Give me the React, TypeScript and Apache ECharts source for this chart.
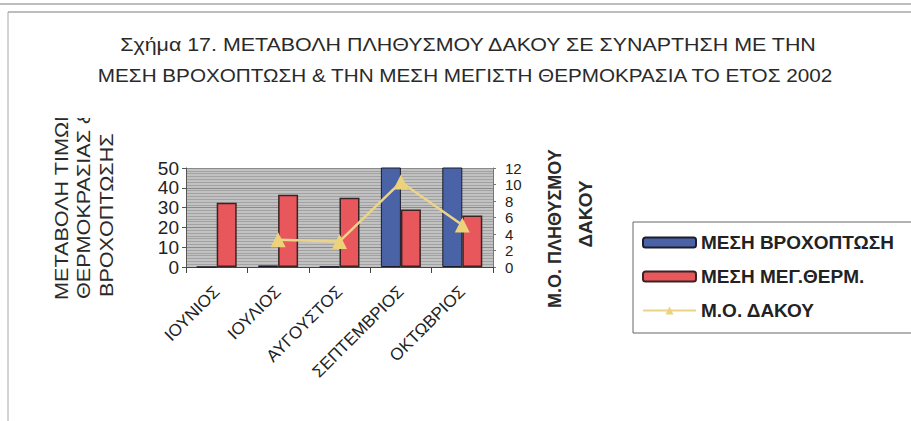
import React, { useEffect, useRef } from "react";
import * as echarts from "echarts";

// Months of the 2002 season
const categories = ["ΙΟΥΝΙΟΣ", "ΙΟΥΛΙΟΣ", "ΑΥΓΟΥΣΤΟΣ", "ΣΕΠΤΕΜΒΡΙΟΣ", "ΟΚΤΩΒΡΙΟΣ"];
// Mean rainfall (left axis; autumn values run past the axis top)
const rainfall = [0, 0.8, 0.2, 62, 58];
// Mean maximum temperature (left axis)
const maxTemperature = [32.5, 36.5, 35, 29, 26];
// Mean olive fly population (right axis)
const dacusPopulation = [null, 3.3, 3.1, 10.3, 5.1];

const leftTicks = { min: 0, max: 50, interval: 10 };
const rightTicks = { min: 0, max: 12, interval: 2 };

const seriesNames = ["ΜΕΣΗ ΒΡΟΧΟΠΤΩΣΗ", "ΜΕΣΗ ΜΕΓ.ΘΕΡΜ.", "Μ.Ο. ΔΑΚΟΥ"];

const FONT = "Liberation Sans, Arial, sans-serif";

// rotated axis-title line, reading bottom to top
const vText = (text: string, x: number, y: number, opts: Record<string, unknown> = {}) => ({
  type: "text",
  x,
  y,
  rotation: Math.PI / 2,
  ...opts,
  style: {
    text,
    fontSize: 18,
    fontFamily: FONT,
    fill: "#2a2a2a",
    align: "left",
    verticalAlign: "middle",
    ...((opts.style as object) || {}),
  },
});

export default function App() {
  const ref = useRef<HTMLDivElement>(null);

  useEffect(() => {
    if (!ref.current) return;
    const chart = echarts.init(ref.current, undefined, { renderer: "svg" });

    const option: echarts.EChartsOption = {
      animation: false,
      backgroundColor: "#ffffff",
      textStyle: { fontFamily: FONT },
      grid: {
        left: 186,
        right: 418,
        top: 168,
        bottom: 154,
        show: true,
        backgroundColor: "#c2c2c2",
        borderWidth: 0,
      },
      legend: {
        orient: "vertical",
        left: 633,
        top: 222,
        padding: [11, 40, 13, 9],
        itemWidth: 53,
        itemHeight: 10,
        itemGap: 15,
        borderColor: "#666",
        borderWidth: 1,
        textStyle: { fontFamily: FONT, fontSize: 19, fontWeight: "bold", color: "#222" },
        data: seriesNames,
      },
      xAxis: {
        type: "category",
        data: categories,
        axisLine: { lineStyle: { color: "#444", width: 1 } },
        axisTick: { show: true, length: 6, lineStyle: { color: "#444" } },
        axisLabel: {
          rotate: 45,
          fontSize: 17,
          color: "#222",
          margin: 22,
          interval: 0,
          fontFamily: FONT,
        },
      },
      yAxis: [
        {
          type: "value",
          ...leftTicks,
          position: "left",
          axisLine: { show: true, lineStyle: { color: "#555" } },
          axisTick: { show: true, length: 4, lineStyle: { color: "#555" } },
          axisLabel: { fontSize: 19, color: "#222", margin: 7, fontFamily: FONT },
          splitLine: { show: true, lineStyle: { color: "#8a8a8a", width: 1 } },
          minorTick: { show: false, splitNumber: 7 },
          minorSplitLine: { show: true, lineStyle: { color: "#a2a2a2", width: 1 } },
        },
        {
          type: "value",
          ...rightTicks,
          position: "right",
          axisLine: { show: true, lineStyle: { color: "#777" } },
          axisTick: { show: true, length: 3, lineStyle: { color: "#777" } },
          axisLabel: {
            fontSize: 15,
            lineHeight: 15,
            color: "#222",
            margin: 12,
            fontFamily: FONT,
            showMinLabel: true,
            showMaxLabel: true,
          },
          splitLine: { show: false },
        },
      ],
      series: [
        {
          name: seriesNames[0],
          type: "bar",
          yAxisIndex: 0,
          data: rainfall,
          barWidth: 20,
          barGap: "0%",
          clip: true,
          itemStyle: { color: "#4a62a6", borderColor: "#1d1d2b", borderWidth: 1 },
        },
        {
          name: seriesNames[1],
          type: "bar",
          yAxisIndex: 0,
          data: maxTemperature,
          barWidth: 20,
          barGap: "0%",
          itemStyle: { color: "#e8575c", borderColor: "#3a2323", borderWidth: 1.5 },
        },
        {
          name: seriesNames[2],
          type: "line",
          yAxisIndex: 1,
          data: dacusPopulation,
          connectNulls: false,
          symbol: "triangle",
          symbolSize: 15,
          lineStyle: { color: "#ebd487", width: 2.5 },
          itemStyle: { color: "#ecd27a" },
        },
      ],
      graphic: [
        // frame lines
        { type: "line", shape: { x1: 0, y1: 4, x2: 911, y2: 4 }, style: { stroke: "#7a7a7a", lineWidth: 1 } },
        { type: "line", shape: { x1: 8, y1: 12, x2: 911, y2: 12 }, style: { stroke: "#7a7a7a", lineWidth: 1 } },
        { type: "line", shape: { x1: 8, y1: 12, x2: 8, y2: 421 }, style: { stroke: "#a8a8a8", lineWidth: 1 } },
        // title
        {
          type: "text",
          x: 468,
          y: 45,
          scaleX: 1.19,
          style: {
            text: "Σχήμα 17. ΜΕΤΑΒΟΛΗ ΠΛΗΘΥΣΜΟΥ ΔΑΚΟΥ ΣΕ ΣΥΝΑΡΤΗΣΗ ΜΕ ΤΗΝ",
            fontSize: 18,
            fontFamily: FONT,
            fill: "#2a2a2a",
            align: "center",
            verticalAlign: "middle",
          },
        },
        {
          type: "text",
          x: 465,
          y: 76,
          scaleX: 1.15,
          style: {
            text: "ΜΕΣΗ ΒΡΟΧΟΠΤΩΣΗ & ΤΗΝ ΜΕΣΗ ΜΕΓΙΣΤΗ ΘΕΡΜΟΚΡΑΣΙΑ ΤΟ ΕΤΟΣ 2002",
            fontSize: 18,
            fontFamily: FONT,
            fill: "#2a2a2a",
            align: "center",
            verticalAlign: "middle",
          },
        },
        // left axis title (three rotated lines)
        vText("ΜΕΤΑΒΟΛΗ ΤΙΜΩΝ", 62, 300, { scaleX: 1.2 }),
        vText("ΘΕΡΜΟΚΡΑΣΙΑΣ &", 84, 299, { scaleX: 1.2 }),
        vText("ΒΡΟΧΟΠΤΩΣΗΣ", 107, 297, { scaleX: 1.2 }),
        // the title box cuts off the top of the left title
        { type: "rect", shape: { x: 50, y: 90, width: 46, height: 28 }, style: { fill: "#ffffff" }, z: 100 },
        // right axis title
        vText("Μ.Ο. ΠΛΗΘΥΣΜΟΥ", 555, 308, { style: { fontWeight: "bold" } }),
        vText("ΔΑΚΟΥ", 585, 214, { style: { fontWeight: "bold", fontSize: 19, align: "center" } }),
      ],
    };

    chart.setOption(option);
    return () => chart.dispose();
  }, []);

  return (
    <div
      ref={ref}
      style={{ position: "absolute", left: 0, top: 0, width: 911, height: 421 }}
    />
  );
}
